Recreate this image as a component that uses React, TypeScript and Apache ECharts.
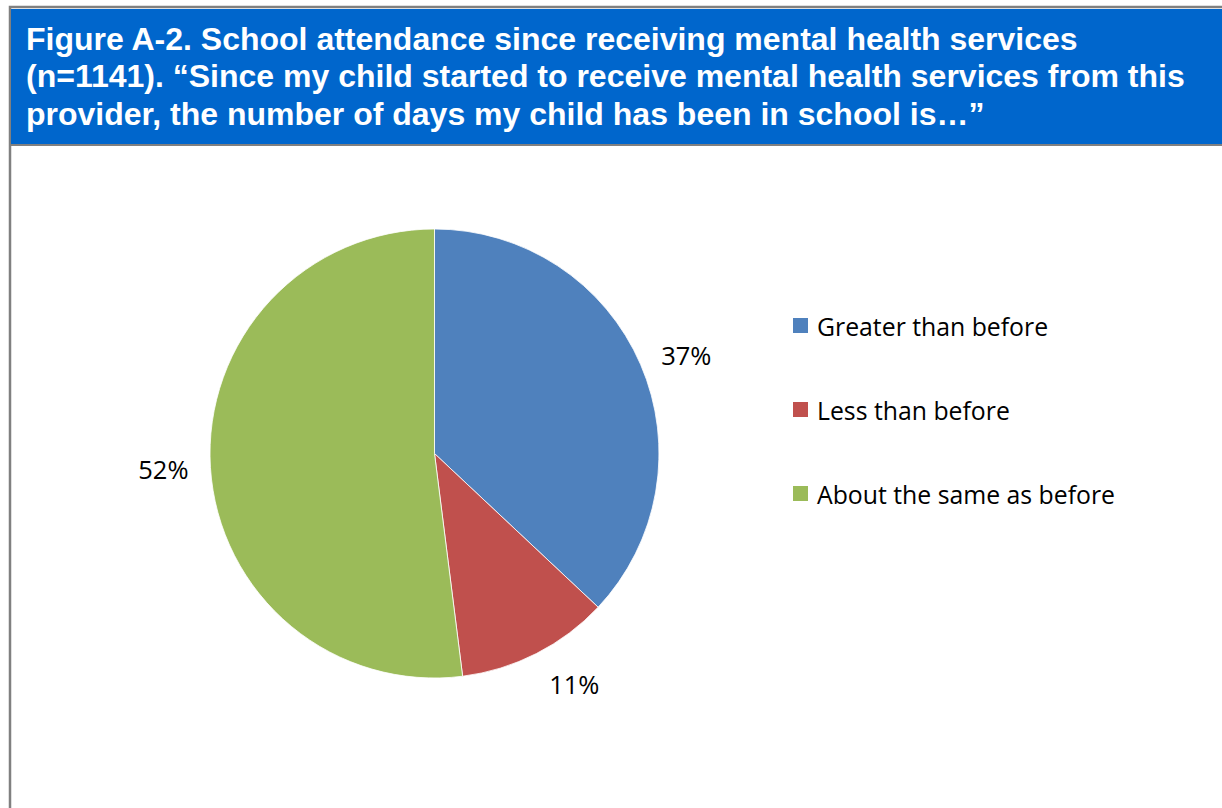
import React, { useEffect, useRef } from "react";
import * as echarts from "echarts";

const titleLines = [
  "Figure A-2. School attendance since receiving mental health services",
  "(n=1141). \u201cSince my child started to receive mental health services from this",
  "provider, the number of days my child has been in school is\u2026\u201d",
];
const categories = ["Greater than before", "Less than before", "About the same as before"];
const values = [37, 11, 52];
const colors = ["#4F81BD", "#C0504D", "#9BBB59"];
const labelNudgeY = [-3, 15, 0];

export default function App() {
  const ref = useRef<HTMLDivElement>(null);
  useEffect(() => {
    if (!ref.current) return;
    const chart = echarts.init(ref.current, undefined, { renderer: "svg" });
    chart.setOption({
      animation: false,
      backgroundColor: "#ffffff",
      graphic: [
        { type: "rect", shape: { x: 10, y: 7, width: 1230, height: 820 }, style: { fill: "#ffffff", stroke: "#808080", lineWidth: 2.5 }, z: 0 },
        { type: "rect", shape: { x: 11, y: 9, width: 1230, height: 135 }, style: { fill: "#0066CC" }, z: 1 },
        { type: "rect", shape: { x: 11, y: 144, width: 1230, height: 2 }, style: { fill: "#808080" }, z: 1 },
      ],
      title: {
        text: titleLines.join("\n"),
        left: 26,
        top: 20,
        padding: 0,
        textStyle: {
          color: "#ffffff",
          fontFamily: "Liberation Sans, Arial, sans-serif",
          fontWeight: "bold",
          fontSize: 32,
          lineHeight: 37.5,
        },
        z: 5,
      },
      legend: {
        orient: "vertical",
        left: 791,
        top: 313,
        padding: 0,
        itemWidth: 17,
        itemHeight: 17,
        itemGap: 59,
        icon: "rect",
        data: categories,
        textStyle: { fontFamily: "Open Sans, sans-serif", fontSize: 24.8, color: "#000000", lineHeight: 24, padding: [0, 0, 0, 3] },
      },
      series: [
        {
          type: "pie",
          center: [434.5, 453.5],
          radius: 224.5,
          startAngle: 90,
          clockwise: true,
          z: 3,
          itemStyle: { borderColor: "#ffffff", borderWidth: 0.8 },
          label: {
            show: true,
            position: "outside",
            formatter: "{c}%",
            fontFamily: "Open Sans, sans-serif",
            fontSize: 25.5,
            color: "#000000",
          },
          labelLine: { show: false, length: 17, length2: 0 },
          labelLayout: (p: any) => ({ dy: labelNudgeY[p.dataIndex] }),
          data: categories.map((name, i) => ({ name, value: values[i], itemStyle: { color: colors[i] } })),
        },
      ],
    });
    return () => chart.dispose();
  }, []);
  return <div ref={ref} style={{ position: "fixed", left: 0, top: 0, width: 1222, height: 808 }} />;
}
